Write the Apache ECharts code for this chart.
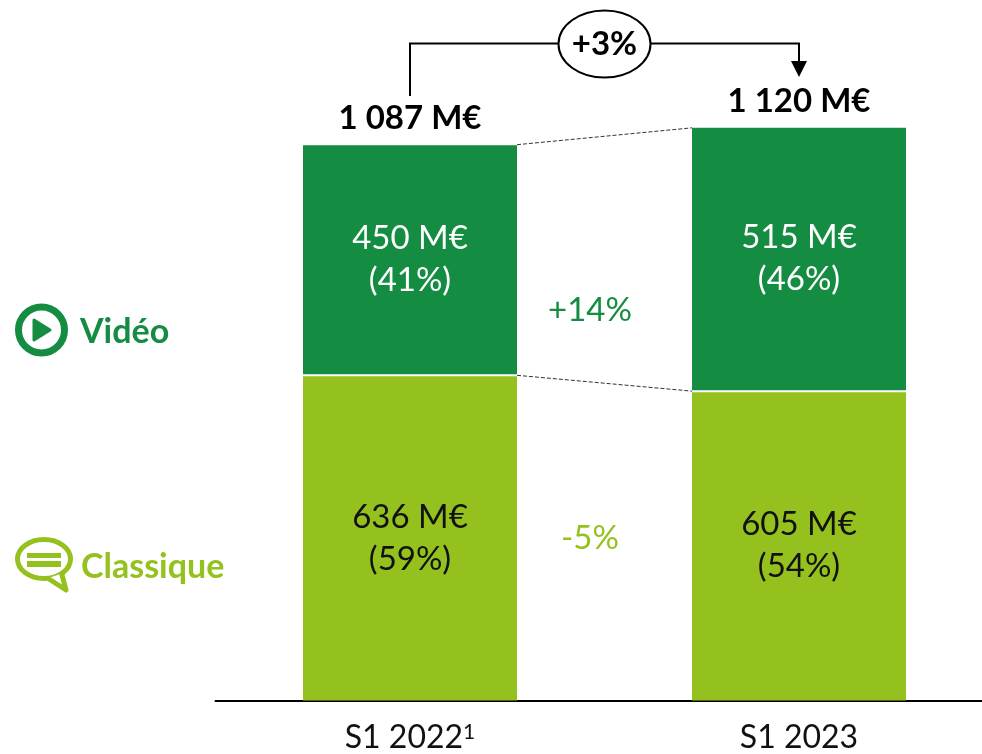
<!DOCTYPE html>
<html>
<head>
    <meta charset="utf-8">
    <title>ECharts</title>
    <script src="https://cdn.jsdelivr.net/npm/echarts@6/dist/echarts.min.js"></script>
    <style>html,body{margin:0;padding:0;background:#fff;overflow:hidden;}</style>
</head>
<body>
    <!-- axis runs past the right edge of the window, as in the original slide -->
    <div id="main" style="width:994px;height:754px;"></div>
    <script type="text/javascript">
var categories = ['S1 2022', 'S1 2023'];
var footnotes = ['1', ''];
var classique = [636, 605];
var video = [450, 515];
var classiqueShare = [59, 54];
var videoShare = [41, 46];
var totals = [1087, 1120];
var growthVideo = '+14%';
var growthClassique = '-5%';
var growthTotal = '+3%';

var darkGreen = '#148c41';
var lightGreen = '#95c11f';
var font = 'Lato';

var myChart = echarts.init(document.getElementById('main'));

function totalText(v) {
    return String(v).replace(/(\d)(\d{3})$/, '$1 $2') + ' M€';
}

// dashed lines between the two bars, white line on the segment boundary
function renderLinks(params, api) {
    var half = 107;
    var a = api.coord([0, api.value(0)]);
    var b = api.coord([1, api.value(1)]);
    return {
        type: 'line',
        shape: {x1: a[0] + half, y1: a[1], x2: b[0] - half, y2: b[1]},
        style: {stroke: '#333', lineWidth: 1, lineDash: [4, 2]}
    };
}
function renderDivider(params, api) {
    var half = 107;
    var p = api.coord([api.value(0), api.value(1)]);
    return {
        type: 'line',
        shape: {x1: p[0] - half, y1: p[1], x2: p[0] + half, y2: p[1]},
        style: {stroke: '#fff', lineWidth: 2}
    };
}

var option = {
    animation: false,
    backgroundColor: '#fff',
    textStyle: {fontFamily: font},
    grid: {left: 215.5, top: 0, width: 778, height: 703},
    xAxis: {
        type: 'category',
        data: categories,
        axisTick: {show: false},
        axisLine: {lineStyle: {color: '#000', width: 2}},
        axisLabel: {
            margin: 21,
            interval: 0,
            formatter: function (value, i) {
                return '{a|' + value + '}' + (footnotes[i] ? '{b|' + footnotes[i] + '}' : '');
            },
            rich: {
                a: {fontFamily: font, fontSize: 32, color: '#111'},
                b: {fontFamily: font, fontSize: 21, color: '#111', verticalAlign: 'top', padding: [0, 0, 12, 0]}
            }
        }
    },
    yAxis: {type: 'value', min: 0, max: 1370, show: false, splitLine: {show: false}},
    series: [
        {
            name: 'Classique',
            type: 'bar',
            stack: 'total',
            barWidth: 214,
            data: classique,
            itemStyle: {color: lightGreen},
            label: {
                show: true,
                position: 'inside',
                offset: [0, 0],
                fontFamily: font,
                fontSize: 33,
                lineHeight: 42,
                color: '#111',
                formatter: function (p) {
                    return p.value + ' M€\n(' + classiqueShare[p.dataIndex] + '%)';
                }
            }
        },
        {
            name: 'Vidéo',
            type: 'bar',
            stack: 'total',
            barWidth: 214,
            data: video,
            itemStyle: {color: darkGreen},
            label: {
                show: true,
                position: 'inside',
                offset: [0, -1],
                fontFamily: font,
                fontSize: 33,
                lineHeight: 42,
                color: '#fff',
                formatter: function (p) {
                    return p.value + ' M€\n(' + videoShare[p.dataIndex] + '%)';
                }
            }
        },
        {
            type: 'scatter',
            data: totals,
            symbolSize: 1,
            itemStyle: {color: 'rgba(0,0,0,0)', opacity: 1},
            label: {
                show: true,
                position: 'top',
                distance: 9,
                opacity: 1,
                fontFamily: font,
                fontWeight: 'bold',
                fontSize: 33,
                color: '#000',
                formatter: function (p) { return totalText(p.value); }
            }
        },
        {
            type: 'custom',
            renderItem: renderDivider,
            encode: {x: 0, y: 1},
            z: 5,
            data: [[0, classique[0]], [1, classique[1]]]
        },
        {
            type: 'custom',
            renderItem: renderLinks,
            z: 5,
            data: [[totals[0], totals[1]], [classique[0], classique[1]]],
            encode: {y: [0, 1]}
        }
    ],
    graphic: [
        // bracket +3%
        {type: 'polyline', shape: {points: [[410, 96], [410, 43.5], [799, 43.5], [799, 62]]}, style: {stroke: '#000', lineWidth: 2, fill: null}},
        {type: 'polygon', shape: {points: [[791, 61], [807, 61], [799, 77]]}, style: {fill: '#000'}},
        {type: 'ellipse', shape: {cx: 604.5, cy: 44, rx: 46, ry: 33.5}, style: {fill: '#fff', stroke: '#000', lineWidth: 2}},
        {type: 'text', x: 604.5, y: 44, style: {text: growthTotal, font: 'bold 33px ' + font, fill: '#000', align: 'center', verticalAlign: 'middle'}},
        // growth labels
        {type: 'text', x: 590, y: 310, style: {text: growthVideo, font: '33px ' + font, fill: darkGreen, align: 'center', verticalAlign: 'middle'}},
        {type: 'text', x: 590, y: 538, style: {text: growthClassique, font: '33px ' + font, fill: lightGreen, align: 'center', verticalAlign: 'middle'}},
        // legend Video
        {type: 'circle', shape: {cx: 41.5, cy: 330, r: 23}, style: {fill: '#fff', stroke: darkGreen, lineWidth: 7}},
        {type: 'polygon', shape: {points: [[34, 320], [50, 330], [34, 340]]}, style: {fill: darkGreen, stroke: darkGreen, lineWidth: 3, lineJoin: 'round'}},
        {type: 'text', x: 80, y: 332, style: {text: 'Vidéo', font: 'bold 34px ' + font, fill: darkGreen, align: 'left', verticalAlign: 'middle'}},
        // legend Classique
        {type: 'ellipse', shape: {cx: 44, cy: 559, rx: 26.5, ry: 19.5}, style: {fill: '#fff', stroke: lightGreen, lineWidth: 5}},
        {type: 'polygon', shape: {points: [[50, 578], [66, 590], [62, 574]]}, style: {fill: '#fff', stroke: '#fff', lineWidth: 1}},
        {type: 'polyline', shape: {points: [[49, 579], [66, 590], [62, 575]]}, style: {stroke: lightGreen, lineWidth: 5, fill: null, lineJoin: 'round', lineCap: 'round'}},
        {type: 'rect', shape: {x: 27, y: 553, width: 34, height: 5}, style: {fill: lightGreen}},
        {type: 'rect', shape: {x: 27, y: 561, width: 34, height: 6}, style: {fill: lightGreen}},
        {type: 'text', x: 81, y: 567, style: {text: 'Classique', font: 'bold 34px ' + font, fill: lightGreen, align: 'left', verticalAlign: 'middle'}}
    ]
};

myChart.setOption(option);
    </script>
</body>
</html>
